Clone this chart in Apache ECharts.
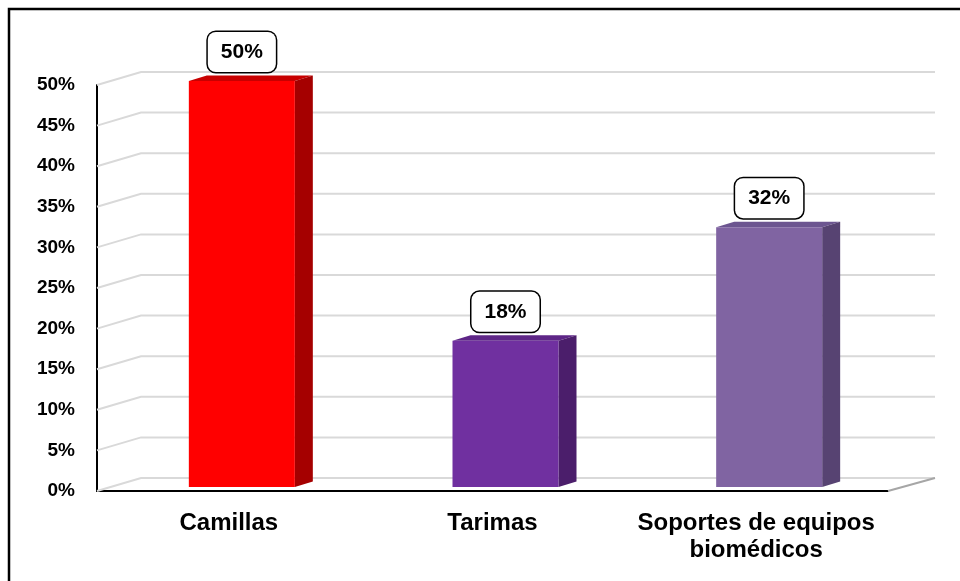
<!DOCTYPE html>
<html>
<head>
<meta charset="utf-8">
<script src="https://cdn.jsdelivr.net/npm/echarts@6/dist/echarts.min.js"></script>
<style>
  html, body { margin: 0; padding: 0; background: #fff; }
  #chart { width: 960px; height: 581px; }
</style>
</head>
<body>
<div id="chart"></div>
<script>
const categories = ['Camillas', 'Tarimas', 'Soportes de equipos\nbiomédicos'];
const values = [50, 18, 32];
const yTicks = [0, 5, 10, 15, 20, 25, 30, 35, 40, 45, 50];

const frontColors = ['#ff0000', '#7030a0', '#8064a2'];
const sideColors = ['#a50000', '#4b1e6b', '#574372'];
const topColors = ['#c80000', '#5e2687', '#6c5590'];

// wall depth (back plane offset from the front plane)
const WALL_DX = 44, WALL_DY = -13;
// bar placement inside the depth
const BAR_FX = 13, BAR_FY = -4, BAR_W = 106, BAR_DX = 18, BAR_DY = -5.5;

const chart = echarts.init(document.getElementById('chart'));

function renderWall(params, api) {
  const v = api.value(1);
  const y = api.coord([0, v])[1];
  const cs = params.coordSys;
  const x0 = cs.x, x1 = cs.x + cs.width;
  const line = { stroke: '#d9d9d9', lineWidth: 2, fill: null };
  const children = [{
    type: 'polyline',
    shape: { points: [[x0, y], [x0 + WALL_DX, y + WALL_DY], [x1 + WALL_DX + 3, y + WALL_DY]] },
    style: line
  }];
  if (v === 0) {
    children.push({
      type: 'line',
      shape: { x1: x1, y1: y, x2: x1 + WALL_DX + 3, y2: y + WALL_DY },
      style: { stroke: '#a6a6a6', lineWidth: 2 }
    });
  }
  return { type: 'group', children: children };
}

function renderBar(params, api) {
  const i = api.value(0), v = api.value(1);
  const base = api.coord([i, 0]);
  const top = api.coord([i, v]);
  const cx = base[0] + BAR_FX;
  const yb = base[1] + BAR_FY;
  const yt = top[1] + BAR_FY;
  const xl = cx - BAR_W / 2, xr = cx + BAR_W / 2;
  return {
    type: 'group',
    children: [
      {
        type: 'polygon',
        shape: { points: [[xl, yt], [xl + BAR_DX, yt + BAR_DY], [xr + BAR_DX, yt + BAR_DY], [xr, yt]] },
        style: { fill: topColors[i] }
      },
      {
        type: 'polygon',
        shape: { points: [[xr, yt], [xr + BAR_DX, yt + BAR_DY], [xr + BAR_DX, yb + BAR_DY], [xr, yb]] },
        style: { fill: sideColors[i] }
      },
      {
        type: 'rect',
        shape: { x: xl, y: yt, width: BAR_W, height: yb - yt },
        style: { fill: frontColors[i] }
      },
      {
        type: 'text',
        style: {
          text: v + '%',
          x: cx,
          y: yt - 9,
          align: 'center',
          verticalAlign: 'bottom',
          font: 'bold 21px "Liberation Sans", Arial, sans-serif',
          fill: '#000',
          lineHeight: 26,
          backgroundColor: '#fff',
          borderColor: '#000',
          borderWidth: 1.5,
          borderRadius: 8,
          padding: [7, 13]
        }
      }
    ]
  };
}

chart.setOption({
  animation: false,
  graphic: [{
    type: 'rect',
    shape: { x: 9, y: 9, width: 1000, height: 1000 },
    style: { fill: null, stroke: '#000', lineWidth: 2.5 },
    silent: true
  }],
  grid: { left: 97, right: 72, top: 85, bottom: 90 },
  xAxis: {
    type: 'category',
    data: categories,
    axisLine: { show: true, lineStyle: { color: '#000', width: 2 } },
    axisTick: { show: false },
    axisLabel: {
      color: '#000',
      fontWeight: 'bold',
      fontSize: 24,
      fontFamily: '"Liberation Sans", Arial, sans-serif',
      lineHeight: 27,
      margin: 19,
      interval: 0
    }
  },
  yAxis: {
    type: 'value',
    min: 0,
    max: 50,
    interval: 5,
    axisLine: { show: true, lineStyle: { color: '#000', width: 2 } },
    axisTick: { show: false },
    splitLine: { show: false },
    axisLabel: {
      formatter: '{value}%',
      color: '#000',
      fontWeight: 'bold',
      fontSize: 19,
      fontFamily: '"Liberation Sans", Arial, sans-serif',
      margin: 22
    }
  },
  series: [
    {
      type: 'custom',
      silent: true,
      z: 1,
      renderItem: renderWall,
      data: yTicks.map(v => [0, v])
    },
    {
      type: 'custom',
      z: 3,
      renderItem: renderBar,
      data: values.map((v, i) => [i, v])
    }
  ]
});
</script>
</body>
</html>
